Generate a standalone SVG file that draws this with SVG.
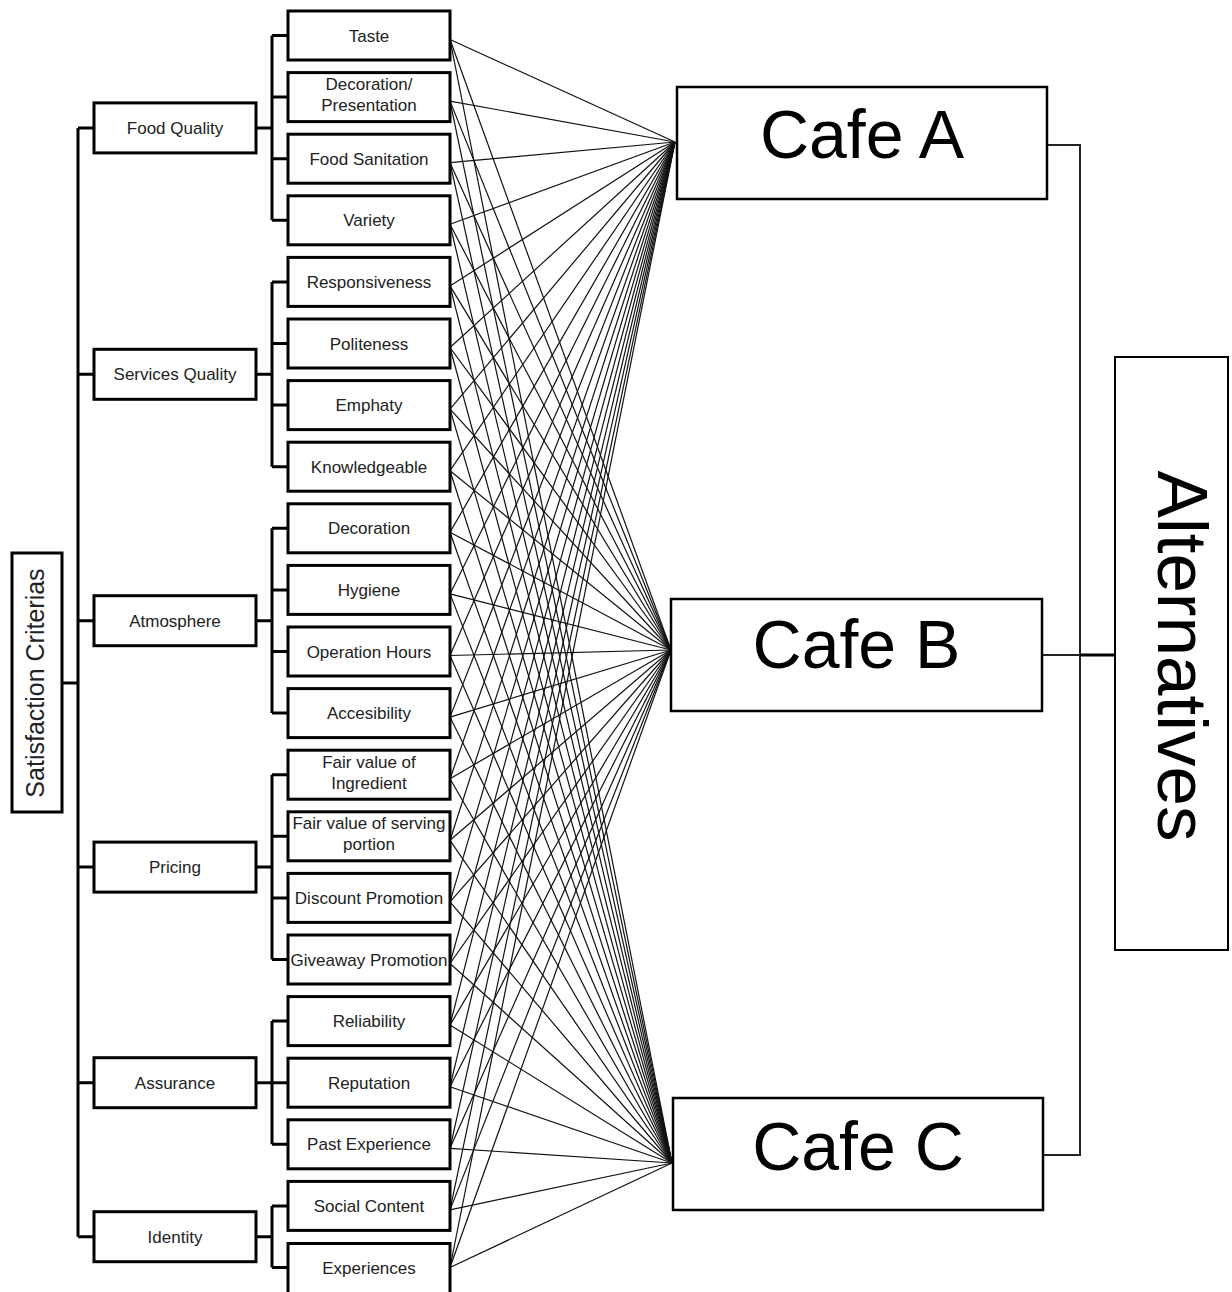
<svg xmlns="http://www.w3.org/2000/svg" width="1232" height="1292" viewBox="0 0 1232 1292">
<style>
.box{fill:#fff;stroke:#000;stroke-width:3}
.big{fill:#fff;stroke:#000;stroke-width:2.5}
.t{font-family:"Liberation Sans",Arial,sans-serif;font-size:17px;fill:#222;text-anchor:middle}
.bt{font-family:"Liberation Sans",Arial,sans-serif;font-size:68px;fill:#000;text-anchor:middle}
.br{fill:none;stroke:#000;stroke-width:3}
.fan line{stroke:#111;stroke-width:1.2}
.rc{fill:none;stroke:#222;stroke-width:2}
</style>
<rect width="1232" height="1292" fill="#fff"/>
<g id="connectors">
<g class="fan">
<line x1="450" y1="39.5" x2="675" y2="142"/><line x1="450" y1="39.5" x2="671" y2="650"/><line x1="450" y1="39.5" x2="672" y2="1163"/>
<line x1="450" y1="101.1" x2="675" y2="142"/><line x1="450" y1="101.1" x2="671" y2="650"/><line x1="450" y1="101.1" x2="672" y2="1163"/>
<line x1="450" y1="162.7" x2="675" y2="142"/><line x1="450" y1="162.7" x2="671" y2="650"/><line x1="450" y1="162.7" x2="672" y2="1163"/>
<line x1="450" y1="224.3" x2="675" y2="142"/><line x1="450" y1="224.3" x2="671" y2="650"/><line x1="450" y1="224.3" x2="672" y2="1163"/>
<line x1="450" y1="285.9" x2="675" y2="142"/><line x1="450" y1="285.9" x2="671" y2="650"/><line x1="450" y1="285.9" x2="672" y2="1163"/>
<line x1="450" y1="347.5" x2="675" y2="142"/><line x1="450" y1="347.5" x2="671" y2="650"/><line x1="450" y1="347.5" x2="672" y2="1163"/>
<line x1="450" y1="409.1" x2="675" y2="142"/><line x1="450" y1="409.1" x2="671" y2="650"/><line x1="450" y1="409.1" x2="672" y2="1163"/>
<line x1="450" y1="470.7" x2="675" y2="142"/><line x1="450" y1="470.7" x2="671" y2="650"/><line x1="450" y1="470.7" x2="672" y2="1163"/>
<line x1="450" y1="532.3" x2="675" y2="142"/><line x1="450" y1="532.3" x2="671" y2="650"/><line x1="450" y1="532.3" x2="672" y2="1163"/>
<line x1="450" y1="593.9" x2="675" y2="142"/><line x1="450" y1="593.9" x2="671" y2="650"/><line x1="450" y1="593.9" x2="672" y2="1163"/>
<line x1="450" y1="655.5" x2="675" y2="142"/><line x1="450" y1="655.5" x2="671" y2="650"/><line x1="450" y1="655.5" x2="672" y2="1163"/>
<line x1="450" y1="717.1" x2="675" y2="142"/><line x1="450" y1="717.1" x2="671" y2="650"/><line x1="450" y1="717.1" x2="672" y2="1163"/>
<line x1="450" y1="778.7" x2="675" y2="142"/><line x1="450" y1="778.7" x2="671" y2="650"/><line x1="450" y1="778.7" x2="672" y2="1163"/>
<line x1="450" y1="840.3" x2="675" y2="142"/><line x1="450" y1="840.3" x2="671" y2="650"/><line x1="450" y1="840.3" x2="672" y2="1163"/>
<line x1="450" y1="901.9" x2="675" y2="142"/><line x1="450" y1="901.9" x2="671" y2="650"/><line x1="450" y1="901.9" x2="672" y2="1163"/>
<line x1="450" y1="963.5" x2="675" y2="142"/><line x1="450" y1="963.5" x2="671" y2="650"/><line x1="450" y1="963.5" x2="672" y2="1163"/>
<line x1="450" y1="1025.1" x2="675" y2="142"/><line x1="450" y1="1025.1" x2="671" y2="650"/><line x1="450" y1="1025.1" x2="672" y2="1163"/>
<line x1="450" y1="1086.7" x2="675" y2="142"/><line x1="450" y1="1086.7" x2="671" y2="650"/><line x1="450" y1="1086.7" x2="672" y2="1163"/>
<line x1="450" y1="1148.3" x2="675" y2="142"/><line x1="450" y1="1148.3" x2="671" y2="650"/><line x1="450" y1="1148.3" x2="672" y2="1163"/>
<line x1="450" y1="1209.9" x2="675" y2="142"/><line x1="450" y1="1209.9" x2="671" y2="650"/><line x1="450" y1="1209.9" x2="672" y2="1163"/>
<line x1="450" y1="1267.5" x2="675" y2="142"/><line x1="450" y1="1267.5" x2="671" y2="650"/><line x1="450" y1="1267.5" x2="672" y2="1163"/>
</g>
<g class="br">
<path d="M62 683H78M78 127.9V1236.7M78 127.9H94M78 374.3H94M78 620.7H94M78 867.1H94M78 1082.7H94M78 1236.7H94"/>
<path d="M256 127.9H272M272 35.5V220.3M272 35.5H288M272 97.1H288M272 158.7H288M272 220.3H288"/>
<path d="M256 374.3H272M272 281.9V466.7M272 281.9H288M272 343.5H288M272 405.1H288M272 466.7H288"/>
<path d="M256 620.7H272M272 528.3V713.1M272 528.3H288M272 589.9H288M272 651.5H288M272 713.1H288"/>
<path d="M256 867.1H272M272 774.7V959.5M272 774.7H288M272 836.3H288M272 897.9H288M272 959.5H288"/>
<path d="M256 1082.7H272M272 1021.1V1144.3M272 1021.1H288M272 1082.7H288M272 1144.3H288"/>
<path d="M256 1236.7H272M272 1205.9V1267.5M272 1205.9H288M272 1267.5H288"/>
</g>
<path class="rc" d="M1047 145H1080V1155H1043M1042 655H1080"/>
<path d="M1080 655H1115" fill="none" stroke="#000" stroke-width="3"/>
</g>
<g id="satisfaction-criterias"><rect class="box" x="12" y="553" width="50" height="259"/><text class="t" style="font-size:25px" transform="translate(44,683) rotate(-90)">Satisfaction Criterias</text></g>
<g id="food-quality"><rect class="box" x="94" y="102.9" width="162" height="50"/><text class="t" x="175" y="133.9">Food Quality</text></g>
<g id="services-quality"><rect class="box" x="94" y="349.3" width="162" height="50"/><text class="t" x="175" y="380.3">Services Quality</text></g>
<g id="atmosphere"><rect class="box" x="94" y="595.7" width="162" height="50"/><text class="t" x="175" y="626.7">Atmosphere</text></g>
<g id="pricing"><rect class="box" x="94" y="842.1" width="162" height="50"/><text class="t" x="175" y="873.1">Pricing</text></g>
<g id="assurance"><rect class="box" x="94" y="1057.7" width="162" height="50"/><text class="t" x="175" y="1088.7">Assurance</text></g>
<g id="identity"><rect class="box" x="94" y="1211.7" width="162" height="50"/><text class="t" x="175" y="1242.7">Identity</text></g>
<g id="taste"><rect class="box" x="288" y="11" width="162" height="49"/><text class="t" x="369" y="41.5">Taste</text></g>
<g id="decoration-presentation"><rect class="box" x="288" y="72.6" width="162" height="49"/><text class="t" x="369" y="90.1">Decoration/</text><text class="t" x="369" y="111.1">Presentation</text></g>
<g id="food-sanitation"><rect class="box" x="288" y="134.2" width="162" height="49"/><text class="t" x="369" y="164.7">Food Sanitation</text></g>
<g id="variety"><rect class="box" x="288" y="195.8" width="162" height="49"/><text class="t" x="369" y="226.3">Variety</text></g>
<g id="responsiveness"><rect class="box" x="288" y="257.4" width="162" height="49"/><text class="t" x="369" y="287.9">Responsiveness</text></g>
<g id="politeness"><rect class="box" x="288" y="319" width="162" height="49"/><text class="t" x="369" y="349.5">Politeness</text></g>
<g id="emphaty"><rect class="box" x="288" y="380.6" width="162" height="49"/><text class="t" x="369" y="411.1">Emphaty</text></g>
<g id="knowledgeable"><rect class="box" x="288" y="442.2" width="162" height="49"/><text class="t" x="369" y="472.7">Knowledgeable</text></g>
<g id="decoration"><rect class="box" x="288" y="503.8" width="162" height="49"/><text class="t" x="369" y="534.3">Decoration</text></g>
<g id="hygiene"><rect class="box" x="288" y="565.4" width="162" height="49"/><text class="t" x="369" y="595.9">Hygiene</text></g>
<g id="operation-hours"><rect class="box" x="288" y="627" width="162" height="49"/><text class="t" x="369" y="657.5">Operation Hours</text></g>
<g id="accesibility"><rect class="box" x="288" y="688.6" width="162" height="49"/><text class="t" x="369" y="719.1">Accesibility</text></g>
<g id="fair-value-ingredient"><rect class="box" x="288" y="750.2" width="162" height="49"/><text class="t" x="369" y="767.7">Fair value of</text><text class="t" x="369" y="788.7">Ingredient</text></g>
<g id="fair-value-portion"><rect class="box" x="288" y="811.8" width="162" height="49"/><text class="t" x="369" y="829.3">Fair value of serving</text><text class="t" x="369" y="850.3">portion</text></g>
<g id="discount-promotion"><rect class="box" x="288" y="873.4" width="162" height="49"/><text class="t" x="369" y="903.9">Discount Promotion</text></g>
<g id="giveaway-promotion"><rect class="box" x="288" y="935" width="162" height="49"/><text class="t" x="369" y="965.5">Giveaway Promotion</text></g>
<g id="reliability"><rect class="box" x="288" y="996.6" width="162" height="49"/><text class="t" x="369" y="1027.1">Reliability</text></g>
<g id="reputation"><rect class="box" x="288" y="1058.2" width="162" height="49"/><text class="t" x="369" y="1088.7">Reputation</text></g>
<g id="past-experience"><rect class="box" x="288" y="1119.8" width="162" height="49"/><text class="t" x="369" y="1150.3">Past Experience</text></g>
<g id="social-content"><rect class="box" x="288" y="1181.4" width="162" height="49"/><text class="t" x="369" y="1211.9">Social Content</text></g>
<g id="experiences"><rect class="box" x="288" y="1243.5" width="162" height="50"/><text class="t" x="369" y="1273.5">Experiences</text></g>
<g id="cafe-a"><rect class="big" x="677" y="87" width="370" height="112"/><text class="bt" x="862" y="158">Cafe A</text></g>
<g id="cafe-b"><rect class="big" x="671" y="599" width="371" height="112"/><text class="bt" x="856.5" y="668">Cafe B</text></g>
<g id="cafe-c"><rect class="big" x="673" y="1098" width="370" height="112"/><text class="bt" x="858" y="1170">Cafe C</text></g>
<g id="alternatives"><rect class="big" x="1115" y="357" width="113" height="593" style="stroke-width:2"/><text class="bt" style="font-size:71px" transform="translate(1158,656) rotate(90)">Alternatives</text></g>
</svg>
